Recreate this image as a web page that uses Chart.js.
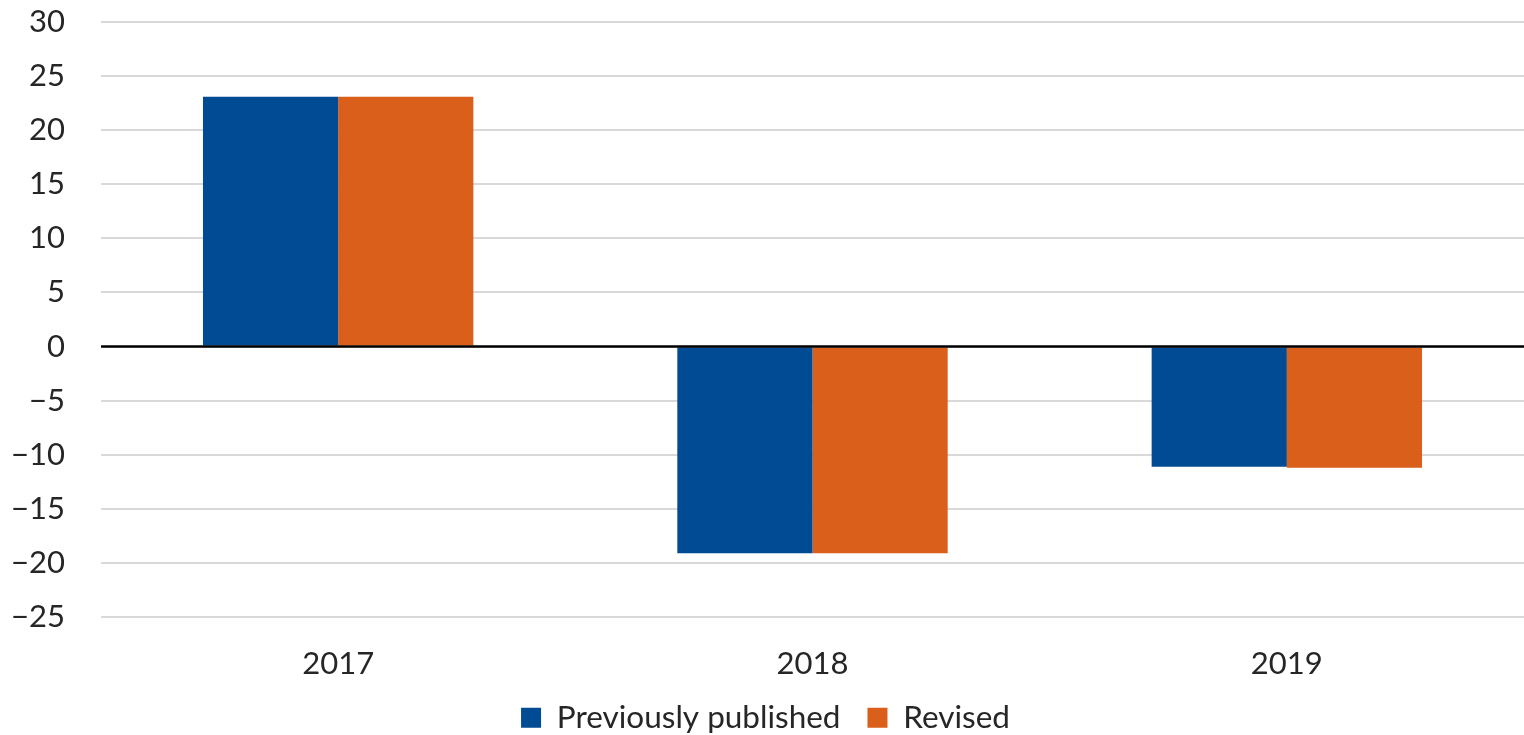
<!DOCTYPE html>
<html>
<head>
<meta charset="utf-8">
<script src="https://cdn.jsdelivr.net/npm/chart.js@4/dist/chart.umd.min.js"></script>
<style>
  html, body { margin: 0; padding: 0; background: #fff; }
  #wrap { width: 1524px; height: 735px; }
</style>
</head>
<body>
<div id="wrap"><canvas id="grafico"></canvas></div>
<script>
// datos
const years = ['2017', '2018', '2019'];
const previouslyPublished = [23.1, -19.1, -11.1];
const revised = [23.1, -19.1, -11.2];
const yTicks = [30, 25, 20, 15, 10, 5, 0, -5, -10, -15, -20, -25];

const textColor = '#262626';
const fontFamily = 'Lato, "Liberation Sans", sans-serif';

// linea del cero por encima de las barras
const zeroLine = {
    id: 'zeroLine',
    afterDatasetsDraw(chart) {
        const { ctx, chartArea, scales } = chart;
        const y = scales.y.getPixelForValue(0);
        ctx.save();
        ctx.strokeStyle = '#000';
        ctx.lineWidth = 2.5;
        ctx.beginPath();
        ctx.moveTo(chartArea.left, y);
        ctx.lineTo(chartArea.right, y);
        ctx.stroke();
        ctx.restore();
    }
};

new Chart(document.getElementById('grafico'), {
    type: 'bar',
    data: {
        labels: years,
        datasets: [
            {
                label: 'Previously published',
                data: previouslyPublished,
                backgroundColor: '#004B93',
                categoryPercentage: 0.57,
                barPercentage: 1.0
            },
            {
                label: 'Revised',
                data: revised,
                backgroundColor: '#D95F1A',
                categoryPercentage: 0.57,
                barPercentage: 1.0
            }
        ]
    },
    options: {
        responsive: true,
        maintainAspectRatio: false,
        animation: false,
        layout: { padding: { top: 22, right: -7, left: 0, bottom: 0 } },
        plugins: {
            tooltip: { enabled: false },
            legend: {
                position: 'bottom',
                maxHeight: 60,
                labels: {
                    color: textColor,
                    boxWidth: 20,
                    boxHeight: 20,
                    padding: 27,
                    font: { family: fontFamily, size: 31.5, lineHeight: 1 }
                }
            }
        },
        scales: {
            x: {
                afterFit(scale) { scale.height = 58; },
                grid: { display: false },
                border: { display: false },
                ticks: {
                    color: textColor,
                    padding: 23,
                    font: { family: fontFamily, size: 31, lineHeight: 1 }
                }
            },
            y: {
                min: -25,
                max: 30,
                afterFit(scale) {
                    scale.width = 101;
                    scale.paddingTop = 0;
                    scale.paddingBottom = 0;
                },
                afterBuildTicks(scale) {
                    scale.ticks = yTicks.map(v => ({ value: v }));
                },
                grid: {
                    color: '#D9D9D9',
                    lineWidth: 2,
                    drawTicks: false
                },
                border: { display: false },
                ticks: {
                    color: textColor,
                    padding: 36,
                    font: { family: fontFamily, size: 31 },
                    callback: v => String(v).replace('-', '\u2212')
                }
            }
        }
    },
    plugins: [zeroLine]
});
</script>
</body>
</html>
